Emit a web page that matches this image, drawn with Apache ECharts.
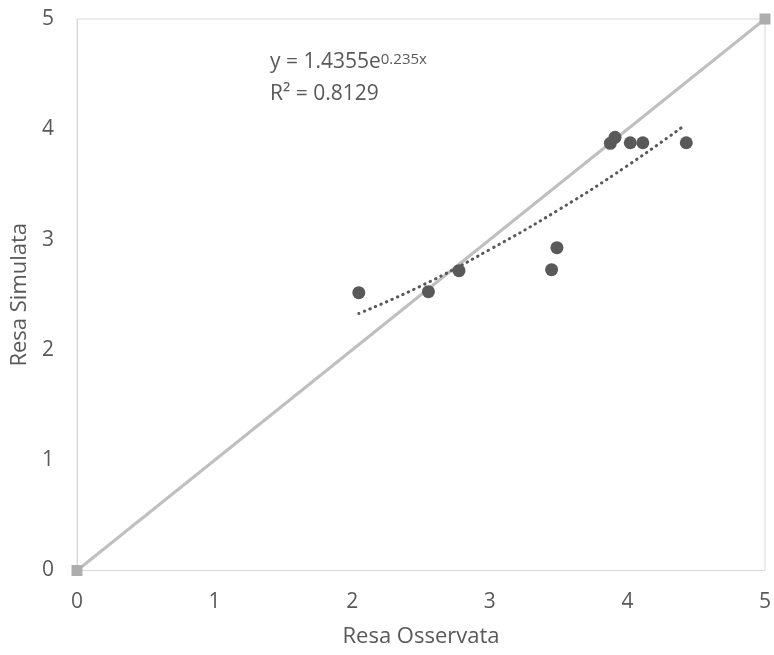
<!DOCTYPE html>
<html><head><meta charset="utf-8">
<script src="https://cdn.jsdelivr.net/npm/echarts@6/dist/echarts.min.js"></script>
<style>html,body{margin:0;padding:0;background:#fff}#c{width:774px;height:655px}</style>
</head><body><div id="c"></div>
<script>
const observed = [2.048, 2.554, 2.776, 3.449, 3.488, 3.876, 3.910, 4.021, 4.112, 4.428];
const simulated = [2.519, 2.528, 2.718, 2.727, 2.927, 3.873, 3.927, 3.878, 3.878, 3.878];
const trendX = [2.048, 2.5, 3.0, 3.5, 4.0, 4.42];
const trendY = [2.33, 2.58, 2.91, 3.27, 3.67, 4.04];
const diagX = [0, 5];
const diagY = [0, 5];
const xTicks = [0, 1, 2, 3, 4, 5];
const yTicks = [0, 1, 2, 3, 4, 5];
const xName = 'Resa Osservata';
const yName = 'Resa Simulata';
const eqMain = 'y = 1.4355e';
const eqExp = '0.235x';
const r2Text = 'R² = 0.8129';

const font = '"Open Sans", "Liberation Sans", sans-serif';
const chart = echarts.init(document.getElementById('c'));
chart.setOption({
  animation: false,
  grid: {left: 77, right: 6, top: 19, bottom: 84.5, show: true, borderColor: '#D9D9D9', borderWidth: 1},
  xAxis: {
    type: 'value', min: xTicks[0], max: xTicks[xTicks.length-1], interval: 1,
    name: xName, nameLocation: 'middle', nameGap: 55,
    nameTextStyle: {color: '#595959', fontSize: 22, fontFamily: font},
    axisLine: {show: true, lineStyle: {color: '#D9D9D9'}},
    axisTick: {show: false}, splitLine: {show: false},
    axisLabel: {color: '#595959', fontSize: 21, fontFamily: font, margin: 21}
  },
  yAxis: {
    type: 'value', min: yTicks[0], max: yTicks[yTicks.length-1], interval: 1,
    name: yName, nameLocation: 'middle', nameGap: 46, nameRotate: 90,
    nameTextStyle: {color: '#595959', fontSize: 22, fontFamily: font},
    axisLine: {show: true, lineStyle: {color: '#D9D9D9'}},
    axisTick: {show: false}, splitLine: {show: false},
    axisLabel: {color: '#595959', fontSize: 21, fontFamily: font, margin: 23}
  },
  series: [
    {
      type: 'line', data: diagX.map((x, i) => [x, diagY[i]]),
      symbol: 'rect', symbolSize: 11, clip: false,
      itemStyle: {color: '#ADADAD'},
      lineStyle: {color: '#BFBFBF', width: 3}, z: 1
    },
    {
      type: 'line', data: trendX.map((x, i) => [x, trendY[i]]),
      smooth: true, symbol: 'none',
      lineStyle: {color: '#595959', width: 3, type: [0.5, 5.5], cap: 'round'}, z: 2
    },
    {
      type: 'scatter', data: observed.map((x, i) => [x, simulated[i]]),
      symbol: 'circle', symbolSize: 13,
      itemStyle: {color: '#595959', opacity: 1}, z: 3
    }
  ],
  graphic: [
    {type: 'text', left: 270, top: 52, style: {
      text: '{m|' + eqMain + '}{s|' + eqExp + '}',
      rich: {
        m: {fontSize: 21, fontFamily: font, fill: '#595959', verticalAlign: 'bottom'},
        s: {fontSize: 15, fontFamily: font, fill: '#595959', verticalAlign: 'top'}
      }
    }},
    {type: 'text', left: 270, top: 84, style: {text: r2Text, fontSize: 21, fontFamily: font, fill: '#595959'}}
  ]
});
</script></body></html>
